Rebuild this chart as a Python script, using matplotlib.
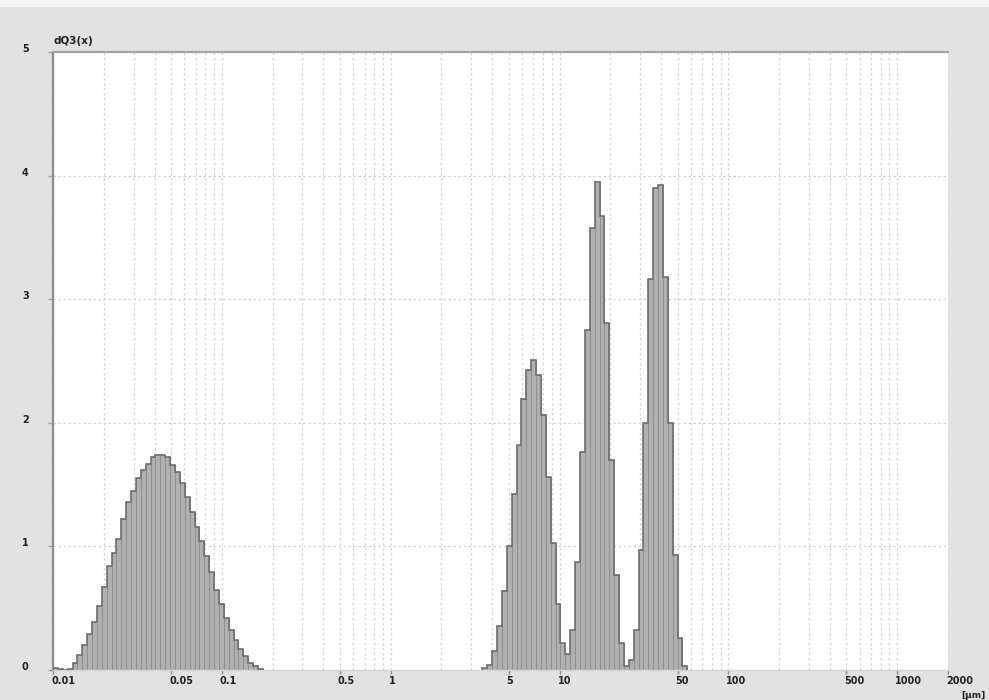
import numpy as np
import matplotlib
matplotlib.use("Agg")
import matplotlib.pyplot as plt
import matplotlib.transforms as mtransforms
from matplotlib.patches import Rectangle
from matplotlib.ticker import FixedLocator, NullFormatter

# size classes: constant log width (about 34.6 classes per decade)
class_ratio = 10 ** (1 / 34.6)

# fine fraction, classes starting at 0.01 um
fine_start = 0.01
fine_q3 = [0.02, 0.01, 0.0,
           0.01, 0.06, 0.12, 0.20, 0.29, 0.39, 0.52, 0.67, 0.84, 0.95,
           1.06, 1.22, 1.36, 1.45, 1.55, 1.62, 1.67, 1.72, 1.74, 1.74,
           1.72, 1.66, 1.60, 1.51, 1.40, 1.28, 1.16, 1.04, 0.92, 0.79,
           0.65, 0.53, 0.42, 0.32, 0.24, 0.17, 0.11, 0.06, 0.03, 0.01]

# coarse fractions (three peaks), classes starting at ~3.48 um
coarse_start = 0.01 * class_ratio ** 88
coarse_q3 = [0.02, 0.04, 0.15, 0.36, 0.64, 1.00, 1.42, 1.82, 2.19, 2.43,
             2.51, 2.39, 2.06, 1.56, 1.03, 0.53, 0.22, 0.13, 0.32, 0.87,
             1.76, 2.75, 3.58, 3.95, 3.67, 2.81, 1.70, 0.77, 0.22, 0.03,
             0.08, 0.32, 0.97, 2.00, 3.16, 3.90, 3.92, 3.18, 2.00, 0.93,
             0.26, 0.03]

x_ticks = [0.01, 0.05, 0.1, 0.5, 1, 5, 10, 50, 100, 500, 1000, 2000]
x_tick_labels = ["0.01", "0.05", "0.1", "0.5", "1", "5", "10", "50",
                 "100", "500", "1000", "2000"]
y_ticks = [0, 1, 2, 3, 4, 5]

bg = "#e2e2e2"
fig = plt.figure(figsize=(9.89, 7.0), dpi=100, facecolor=bg)
fig.patches.append(Rectangle((0, 1 - 7 / 700), 1, 7 / 700, transform=fig.transFigure,
                             facecolor="#f6f6f6", edgecolor="none", zorder=0))
ax = fig.add_axes([53 / 989, 30 / 700, 895 / 989, 618 / 700])
ax.set_facecolor("white")
ax.set_xscale("log")

# grid
minor = []
for dec in [0.01, 0.1, 1, 10, 100, 1000]:
    for m in range(1, 10):
        v = dec * m
        if v <= 2000:
            minor.append(v)
for v in minor:
    ax.axvline(v, color="#d6d6d6", lw=0.9, ls=(0, (2, 2)), zorder=0)
for v in y_ticks[1:5]:
    ax.axhline(v, color="#d3d3d3", lw=0.9, ls=(0, (2, 2)), zorder=0)

for start, q3 in [(fine_start, fine_q3), (coarse_start, coarse_q3)]:
    edges = start * class_ratio ** np.arange(len(q3) + 1)
    ax.bar(edges[:-1], q3, width=np.diff(edges), align="edge",
           facecolor="#b0b0b0", edgecolor="#8f8f8f", linewidth=0.7, zorder=2)
    ax.stairs(q3, edges, color="#707070", linewidth=1.2, zorder=3)

ax.set_xlim(0.01, 2000)
ax.set_ylim(0, 5)

ax.xaxis.set_major_locator(FixedLocator(x_ticks))
ax.xaxis.set_minor_locator(FixedLocator([]))
ax.xaxis.set_minor_formatter(NullFormatter())
ax.set_xticklabels(x_tick_labels)
ax.set_yticks(y_ticks)
ax.set_yticklabels([str(v) for v in y_ticks])

ax.tick_params(axis="x", direction="out", length=3, width=1, color="#8a8a8a",
               pad=1.5, labelsize=7, labelcolor="#202020")
ax.tick_params(axis="y", direction="out", length=3.5, width=1, color="#a0a0a0",
               pad=14, labelsize=7, labelcolor="#202020")

dx = mtransforms.ScaledTranslation(-2 / 100, 0, fig.dpi_scale_trans)
for lab in ax.get_xticklabels():
    lab.set_horizontalalignment("left")
    lab.set_fontweight("bold")
    lab.set_transform(lab.get_transform() + dx)
dy = mtransforms.ScaledTranslation(0, 4 / 100, fig.dpi_scale_trans)
for lab in ax.get_yticklabels():
    lab.set_fontweight("bold")
    lab.set_transform(lab.get_transform() + dy)

ax.spines["left"].set_color("#8c8c8c")
ax.spines["left"].set_linewidth(1.6)
ax.spines["top"].set_color("#a4a4a4")
ax.spines["top"].set_linewidth(1.6)
ax.spines["bottom"].set_color("#d6d6d6")
ax.spines["bottom"].set_linewidth(1.0)
ax.spines["right"].set_visible(False)

fig.text(53 / 989, 1 - 41 / 700, "dQ3(x)", fontsize=7.5, fontweight="bold",
         color="#202020", ha="left", va="center")
fig.text(986 / 989, 1 - 695 / 700, "[µm]", fontsize=6.5, fontweight="bold",
         color="#202020", ha="right", va="center")

fig.savefig("out.png", dpi=100, facecolor=bg)
